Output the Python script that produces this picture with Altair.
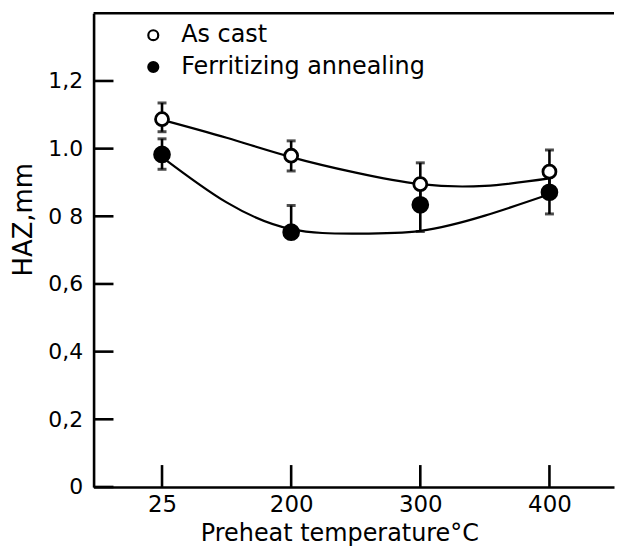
import altair as alt
import pandas as pd

# ---- data ----
temps = ["25", "200", "300", "400"]
pos = [0, 1, 2, 3]
series_names = ["As cast", "Ferritizing annealing"]

as_cast = [1.087, 0.979, 0.895, 0.932]
as_cast_lo = [1.05, 0.934, 0.83, 0.87]
as_cast_hi = [1.135, 1.023, 0.958, 0.996]

ferr = [0.983, 0.753, 0.834, 0.871]
ferr_lo = [0.939, 0.753, 0.755, 0.807]
ferr_hi = [1.029, 0.832, 0.91, 0.93]

curve_pos = [0, 0.5, 1, 1.5, 2, 2.5, 3]
as_cast_curve = [1.085, 1.032, 0.975, 0.929, 0.895, 0.89, 0.912]
ferr_curve = [0.975, 0.841, 0.762, 0.749, 0.757, 0.802, 0.865]

y_ticks = [0, 0.2, 0.4, 0.6, 0.8, 1.0, 1.2]
y_tick_labels = ["0", "0,2", "0,4", "0,6", "0 8", "1.0", "1,2"]

# ---- tables ----
pts_ac = pd.DataFrame({"pos": pos, "y": as_cast, "lo": as_cast_lo, "hi": as_cast_hi,
                       "series": series_names[0]})
pts_fa = pd.DataFrame({"pos": pos, "y": ferr, "lo": ferr_lo, "hi": ferr_hi,
                       "series": series_names[1]})
pts = pd.concat([pts_ac, pts_fa], ignore_index=True)
caps = pd.DataFrame({
    "pos": pos * 4,
    "y": as_cast_lo + as_cast_hi + ferr_lo + ferr_hi,
})
curves = pd.DataFrame({
    "pos": curve_pos * 2,
    "y": as_cast_curve + ferr_curve,
    "series": [series_names[0]] * len(curve_pos) + [series_names[1]] * len(curve_pos),
})
yt = pd.DataFrame({"y": y_ticks})
xt = pd.DataFrame({"pos": pos})

W, H = 523, 476
FONT = "DejaVu Sans"
XDOM = [-0.53, 3.5]
YDOM = [0, 1.4]

x_lab_expr = "[" + ",".join("'%s'" % t for t in temps) + "][datum.value]"
y_lab_expr = "[" + ",".join("'%s'" % t for t in y_tick_labels) + "][round(datum.value*5)]"

xs = alt.Scale(domain=XDOM, nice=False, zero=False)
ys = alt.Scale(domain=YDOM, nice=False, zero=False)

x_enc = alt.X("pos:Q", scale=xs, axis=alt.Axis(
    values=pos, labelExpr=x_lab_expr, title="Preheat temperature°C",
    ticks=False, grid=False, labelPadding=7, titleX=247, titleY=47,
    titleBaseline="middle", titleFontSize=24, labelFontSize=23))
y_enc = alt.Y("y:Q", scale=ys, axis=alt.Axis(
    values=y_ticks, labelExpr=y_lab_expr, title="HAZ,mm",
    ticks=False, grid=False, labelPadding=11, titleX=-70, titleY=207,
    titleBaseline="middle", titleFontSize=26, labelFontSize=22))

base_x = alt.X("pos:Q", scale=xs)
base_y = alt.Y("y:Q", scale=ys)

fill_scale = alt.Scale(domain=series_names, range=["white", "black"])
legend = alt.Legend(
    orient="none", legendX=48, legendY=10, title=None,
    labelFont=FONT, labelFontSize=24, labelColor="black", labelLimit=0,
    symbolType="circle", symbolSize=100, symbolStrokeColor="black",
    symbolStrokeWidth=2.2, rowPadding=8, labelOffset=16, padding=0)

curve_layer = alt.Chart(curves).mark_line(
    interpolate="natural", color="black", strokeWidth=2.2
).encode(x=x_enc, y=y_enc, detail="series:N")

err_layer = alt.Chart(pts).mark_rule(color="black", strokeWidth=2.6).encode(
    x=base_x, y=alt.Y("lo:Q", scale=ys), y2="hi:Q")

cap_layer = alt.Chart(caps).mark_tick(
    orient="horizontal", color="black", size=9, thickness=3
).encode(x=base_x, y=base_y)

ac_layer = alt.Chart(pts_ac).mark_point(
    filled=True, stroke="black", strokeWidth=2.8, opacity=1, size=170
).encode(x=base_x, y=base_y, fill=alt.Fill("series:N", scale=fill_scale, legend=legend))

fa_layer = alt.Chart(pts_fa).mark_point(
    filled=True, stroke="black", strokeWidth=2.6, opacity=1, size=230
).encode(x=base_x, y=base_y, fill=alt.Fill("series:N", scale=fill_scale, legend=legend))

ytick_layer = alt.Chart(yt).mark_rule(color="black", strokeWidth=2.6).encode(
    y=base_y, x=alt.value(0), x2=alt.value(20))
xtick_layer = alt.Chart(xt).mark_rule(color="black", strokeWidth=2.6).encode(
    x=base_x, y=alt.value(H), y2=alt.value(H - 22))
top_layer = alt.Chart(pd.DataFrame({"y": [YDOM[1]]})).mark_rule(
    color="black", strokeWidth=2.6).encode(y=base_y, x=alt.value(0), x2=alt.value(W))

chart = alt.layer(
    curve_layer, err_layer, cap_layer, ytick_layer, xtick_layer, top_layer, ac_layer, fa_layer
).properties(
    width=W, height=H, padding={"left": 3, "top": 2, "right": 0, "bottom": 0}
).configure_view(stroke=None).configure_axis(
    domainColor="black", domainWidth=2.6, labelColor="black", titleColor="black",
    labelFont=FONT, titleFont=FONT, titleFontWeight="normal"
)

chart.save("out.html", embed_options={"renderer": "svg", "actions": False})
